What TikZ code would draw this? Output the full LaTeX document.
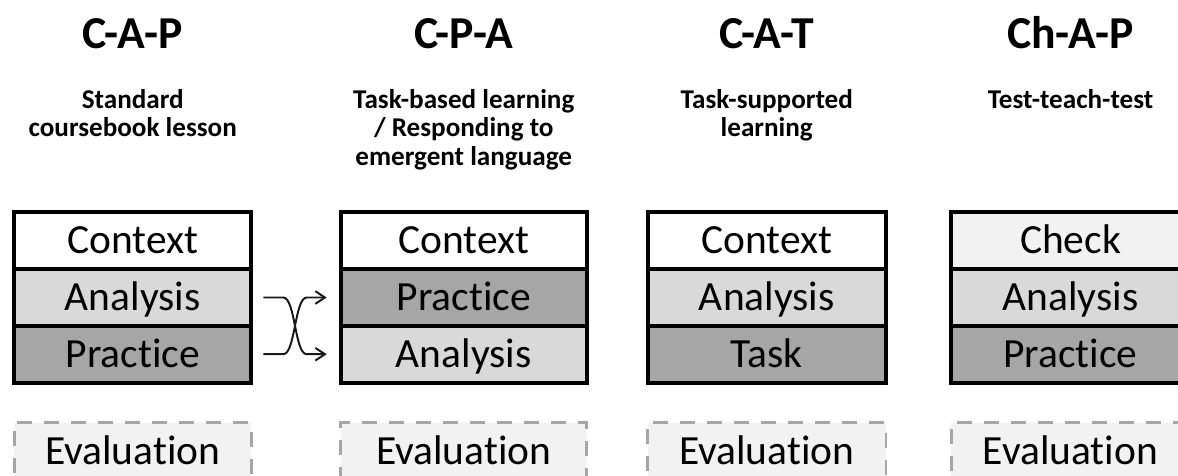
\documentclass[tikz,border=0pt]{standalone}
\usepackage{fontspec}
\setmainfont{Carlito}[Ligatures=NoCommon]
\usetikzlibrary{arrows.meta, positioning, calc}

\definecolor{anagray}{HTML}{D9D9D9}
\definecolor{pracgray}{HTML}{A6A6A6}
\definecolor{chkgray}{HTML}{F2F2F2}
\definecolor{evalfill}{HTML}{F2F2F2}
\definecolor{evaldash}{HTML}{A6A6A6}

\tikzset{
  stage/.style={draw=black, line width=2.85pt, outer sep=0pt, inner sep=0pt,
    minimum height=1.4167cm, text height=18.6pt, text depth=0pt,
    font=\fontsize{29.5}{31}\selectfont},
  evalbox/.style={draw=evaldash, fill=evalfill, line width=2.1pt,
    dash pattern=on 10.7pt off 8.5pt, outer sep=0pt, inner sep=0pt,
    minimum height=1.425cm, text height=18.6pt, text depth=0pt,
    font=\fontsize{29.5}{31}\selectfont},
  heading/.style={font=\fontsize{32.5}{34}\selectfont\bfseries, inner sep=0pt,
    text height=20.5pt, text depth=0pt},
  subhead/.style={font=\fontsize{19.3}{20.3}\selectfont\bfseries, align=center,
    inner sep=0pt, anchor=north},
  crossarrow/.style={line width=1.4pt, draw=black!90,
    -{Straight Barb[length=6.8pt, width=9pt]}},
}

\begin{document}
\begin{tikzpicture}[x=0.025cm, y=-0.025cm]
\useasboundingbox (0,0) rectangle (1178,475);
\clip (0,0) rectangle (1178,475);
% Lesson shapes: heading, subheading, three stages, evaluation
\foreach \col/\cx/\bw/\ttl/\subt/\txa/\fla/\txb/\flb/\txc/\flc in {
    cap/132.75/5.925/C-A-P/{Standard\\coursebook lesson}/Context/white/Analysis/anagray/Practice/pracgray,
    cpa/463.75/6.15/C-P-A/{Task-based learning\\/ Responding to\\emergent language}/Context/white/Practice/pracgray/Analysis/anagray,
    cat/766.75/5.96/C-A-T/{Task-supported\\learning}/Context/white/Analysis/anagray/Task/pracgray,
    chap/1070.5/5.95/Ch-A-P/{Test-teach-test}/Check/chkgray/Analysis/anagray/Practice/pracgray} {
    \node[heading] (\col-title) at (\cx,34.5) {\ttl};
    \node[subhead] (\col-sub) at (\cx,89) {\subt};
    \node[stage, fill=\fla, minimum width=\bw cm] (\col-1) at (\cx,240.8) {\txa};
    \node[stage, fill=\flb, minimum width=\bw cm] (\col-2) at (\cx,297.5) {\txb};
    \node[stage, fill=\flc, minimum width=\bw cm] (\col-3) at (\cx,354.2) {\txc};
    \node[evalbox, minimum width=\bw cm] (\col-eval) at (\cx,451) {Evaluation};
}
% Swapped stages between C-A-P and C-P-A
\draw[crossarrow] ([xshift=0.3cm]cap-2.east) -- ++(0.5cm,0)
    .. controls +(0.3cm,0) and ([xshift=-1.15cm]cpa-3.west) .. ([xshift=-0.85cm]cpa-3.west)
    -- ([xshift=-0.35cm]cpa-3.west);
\draw[crossarrow] ([xshift=0.3cm]cap-3.east) -- ++(0.5cm,0)
    .. controls +(0.3cm,0) and ([xshift=-1.15cm]cpa-2.west) .. ([xshift=-0.85cm]cpa-2.west)
    -- ([xshift=-0.35cm]cpa-2.west);
\end{tikzpicture}
\end{document}
